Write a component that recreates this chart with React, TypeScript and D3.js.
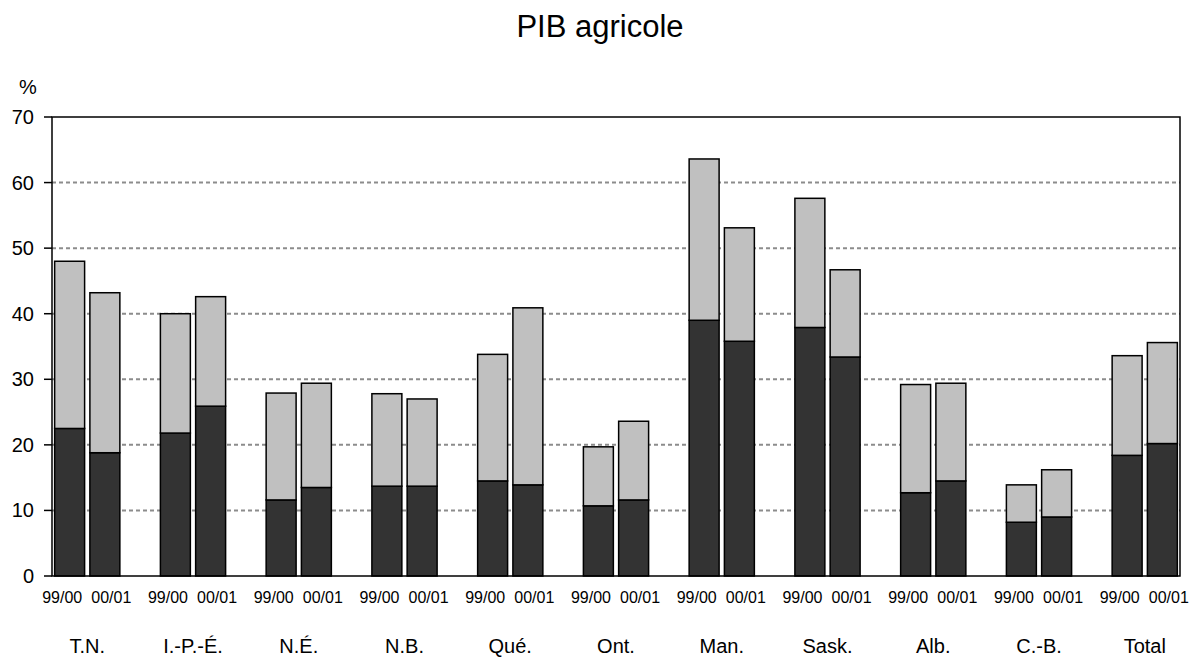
import * as d3 from "d3"

// provinces (categories) and the two seasons per province
const provinces = ["T.N.", "I.-P.-É.", "N.É.", "N.B.", "Qué.", "Ont.", "Man.", "Sask.", "Alb.", "C.-B.", "Total"]
const seasons = ["99/00", "00/01"]

// lower (dark) segment, per province: [99/00, 00/01]
const darkValues = [
  [22.5, 18.8], [21.8, 25.9], [11.6, 13.5], [13.7, 13.7], [14.5, 13.9], [10.7, 11.6],
  [39.0, 35.8], [37.9, 33.4], [12.7, 14.5], [8.2, 9.0], [18.4, 20.2],
]
// upper (light) segment, per province: [99/00, 00/01]
const lightValues = [
  [25.5, 24.4], [18.2, 16.7], [16.3, 15.9], [14.1, 13.3], [19.3, 27.0], [9.0, 12.0],
  [24.6, 17.3], [19.7, 13.3], [16.5, 14.9], [5.7, 7.2], [15.2, 15.4],
]

const yTicks = [0, 10, 20, 30, 40, 50, 60, 70]

const width = 1196
const height = 657
const margin = { top: 117, right: 16, bottom: 81, left: 52 }
const font = "'Liberation Sans', Arial, sans-serif"

export default function App() {
  const plotRight = width - margin.right
  const plotBottom = height - margin.bottom

  // each province takes 3 slots (2 bars + a blank), last blank dropped
  const nSlots = provinces.length * 3 - 1
  const x = d3.scaleBand<number>()
    .domain(d3.range(nSlots))
    .range([margin.left, plotRight])
    .paddingInner(0.15)
    .paddingOuter(0.075)

  const y = d3.scaleLinear().domain([0, 70]).range([plotBottom, margin.top])

  const rows = provinces.flatMap((p, i) =>
    seasons.map((s, j) => ({
      slot: i * 3 + j,
      province: p,
      season: s,
      dark: darkValues[i][j],
      light: lightValues[i][j],
    }))
  )

  const stack = d3.stack<any>().keys(["dark", "light"])
  const layers = stack(rows)
  const fills = { dark: "#333333", light: "#c0c0c0" }

  const pairCenter = (i: number) => {
    const a = x(i * 3)!
    const b = x(i * 3 + 1)! + x.bandwidth()
    return (a + b) / 2
  }

  return (
    <svg width={width} height={height} style={{ position: "absolute", left: 0, top: 0, background: "#fff" }}
      fontFamily={font}>
      <text x={width / 2 + 2} y={37} textAnchor="middle" fontSize={31}>PIB agricole</text>
      <text x={19} y={94} fontSize={20}>%</text>

      {/* grid */}
      {yTicks.filter(t => t > 0 && t < 70).map(t => (
        <line key={t} x1={margin.left} x2={plotRight} y1={y(t)} y2={y(t)}
          stroke="#8c8c8c" strokeWidth={2} strokeDasharray="4,3" />
      ))}

      {/* bars */}
      {layers.map(layer => (
        <g key={layer.key} fill={(fills as any)[layer.key]} stroke="#000" strokeWidth={1.5}>
          {layer.map((d, k) => (
            <rect key={k} x={x(d.data.slot)} y={y(d[1])} width={x.bandwidth()}
              height={y(d[0]) - y(d[1])} />
          ))}
        </g>
      ))}

      {/* frame */}
      <rect x={margin.left} y={margin.top} width={plotRight - margin.left} height={plotBottom - margin.top}
        fill="none" stroke="#000" strokeWidth={1.5} />

      {/* y axis */}
      {yTicks.map(t => (
        <g key={t}>
          <line x1={margin.left - 8} x2={margin.left} y1={y(t)} y2={y(t)} stroke="#000" strokeWidth={1.5} />
          <text x={34} y={y(t)} dy="0.35em" textAnchor="end" fontSize={20}>{t}</text>
        </g>
      ))}

      {/* season labels + province labels */}
      {provinces.map((p, i) => {
        const c = pairCenter(i)
        return (
          <g key={p}>
            <text x={c - 5} y={603} textAnchor="end" fontSize={16}>{seasons[0]}</text>
            <text x={c + 4} y={603} textAnchor="start" fontSize={16}>{seasons[1]}</text>
            <text x={c} y={653} textAnchor="middle" fontSize={20}>{p}</text>
          </g>
        )
      })}
    </svg>
  )
}
